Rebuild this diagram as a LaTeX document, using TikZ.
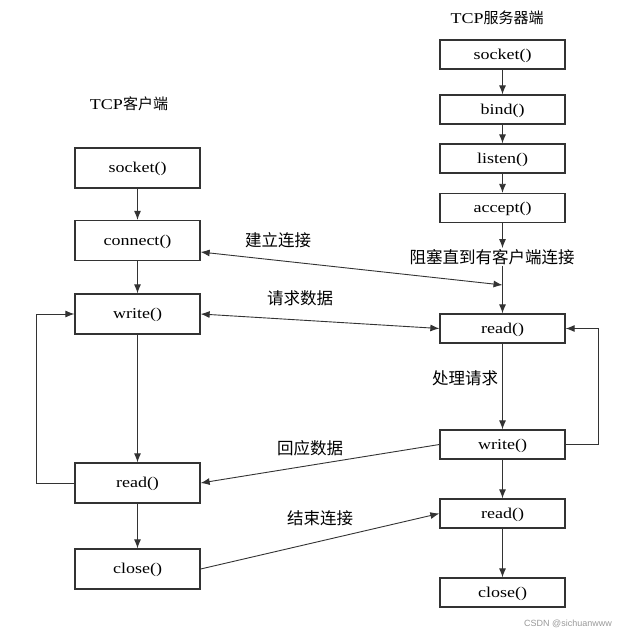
\documentclass[tikz,border=0pt]{standalone}
\usepackage{fontspec}
\setmainfont{Liberation Serif}[FakeStretch=1.2]
\newfontfamily\cjk{Noto Sans CJK SC}
\newfontfamily\wmfont{Liberation Sans}
\usetikzlibrary{arrows.meta, calc, positioning}
\definecolor{boxline}{rgb}{0.2, 0.2, 0.2}
\definecolor{wire}{rgb}{0.2, 0.2, 0.2}

\begin{document}
\begin{tikzpicture}[x=1pt, y=-1pt, >={Latex[length=9pt,width=7pt]}]
        \tikzstyle{box}=[draw=boxline, line width=1.3pt, minimum width=125pt, minimum height=40pt, inner sep=0pt, text depth=0.25ex, font=\fontsize{15}{18}\selectfont]
        \tikzstyle{sbox}=[box, minimum height=29pt]
        \tikzstyle{note}=[inner sep=1pt, font=\cjk\fontsize{16.5}{18}\selectfont]
        \tikzstyle{wire}=[draw=wire, line width=0.9pt]

        \useasboundingbox (0,0) rectangle (624,636);

        % Titles
        \node (ctitle) at (129,104) {\fontsize{15}{18}\selectfont TCP{\cjk 客户端}};
        \node (stitle) at (497,18) {\fontsize{15}{18}\selectfont TCP{\cjk 服务器端}};

        % Client side
        \node[box] (csock) at (137.5,168) {socket()};
        \node[box] (cconn) at (137.5,240.5) {connect()};
        \node[box] (cwrite) at (137.5,314) {write()};
        \node[box] (cread) at (137.5,483) {read()};
        \node[box] (cclose) at (137.5,569) {close()};

        % Server side
        \node[sbox] (ssock) at (502.5,54.5) {socket()};
        \node[sbox] (sbind) at (502.5,109.5) {bind()};
        \node[sbox] (slisten) at (502.5,158.5) {listen()};
        \node[sbox] (saccept) at (502.5,208) {accept()};
        \node[note] (block) at (492,257) {阻塞直到有客户端连接};
        \node[sbox] (sread) at (502.5,328.5) {read()};
        \node[sbox] (swrite) at (502.5,444.5) {write()};
        \node[sbox] (sread2) at (502.5,513.5) {read()};
        \node[sbox] (sclose) at (502.5,592.5) {close()};

        % Point where the connection meets the server line
        \coordinate (meet) at (502.5,285);

        % Client flow
        \draw[wire, ->] (csock) -- (cconn);
        \draw[wire, ->] (cconn) -- (cwrite);
        \draw[wire, ->] (cwrite) -- (cread);
        \draw[wire, ->] (cread) -- (cclose);
        \draw[wire, ->] (cread.west) -- ++(-38,0) |- (cwrite.west);

        % Server flow
        \draw[wire, ->] (ssock) -- (sbind);
        \draw[wire, ->] (sbind) -- (slisten);
        \draw[wire, ->] (slisten) -- (saccept);
        \draw[wire, ->] (saccept) -- (saccept |- block.north);
        \draw[wire, ->] (saccept |- block.south) -- (sread);
        \draw[wire, ->] (sread) -- (swrite);
        \draw[wire, ->] (swrite) -- (sread2);
        \draw[wire, ->] (sread2) -- (sclose);
        \draw[wire, ->] (swrite.east) -- ++(33,0) |- (sread.east);
        \node[note] (handle) at (465,378) {处理请求};

        % Messages between the two sides
        \draw[wire, <->] ($(cconn.east)+(0,11.5)$) -- (meet);
        \node[note] (lconn) at (278,240) {建立连接};
        \draw[wire, <->] (cwrite.east) -- (sread.west);
        \node[note] (lreq) at (300,298) {请求数据};
        \draw[wire, ->] (swrite.west) -- (cread.east);
        \node[note] (lresp) at (310,448) {回应数据};
        \draw[wire, ->] (cclose.east) -- (sread2.west);
        \node[note] (lend) at (320,518) {结束连接};

        % Watermark
        \node[text=black!40, font=\wmfont\fontsize{9}{10}\selectfont] (mark) at (568,624) {CSDN @sichuanwww};
    \end{tikzpicture}
\end{document}
